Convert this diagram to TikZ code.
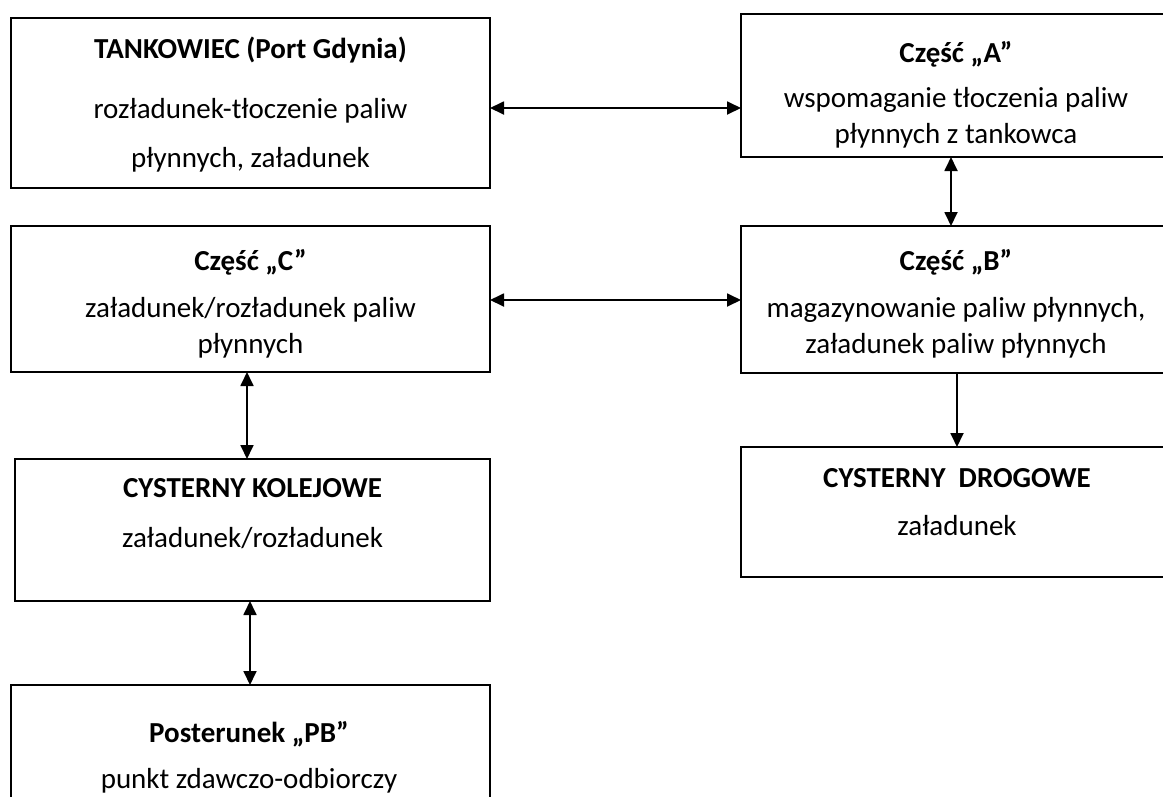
\documentclass[tikz,border=0pt]{standalone}
\usepackage{fontspec}
\setmainfont{Carlito}
\usetikzlibrary{arrows.meta}
\begin{document}
\begin{tikzpicture}[x=1pt,y=-1pt,
  boxn/.style={draw,line width=2pt,inner sep=0pt,outer sep=0pt},
  ttl/.style={anchor=base,inner sep=0pt,font=\bfseries\fontsize{29}{34}\selectfont},
  txt/.style={anchor=base,inner sep=0pt,font=\fontsize{29}{34}\selectfont},
  arr/.style={line width=1.8pt,{Triangle[length=14pt,width=13pt]}-{Triangle[length=14pt,width=13pt]}},
  arrone/.style={line width=1.8pt,-{Triangle[length=14pt,width=13pt]}}]
\useasboundingbox (0,0) rectangle (1163,796);
\clip (0,0) rectangle (1163,796);
% boxes
\node[boxn,minimum width=479pt,minimum height=170pt] (T) at (250.5,103) {};
\node[boxn,minimum width=430pt,minimum height=143pt] (A) at (956,85.5) {};
\node[boxn,minimum width=479pt,minimum height=146pt] (C) at (250.5,299) {};
\node[boxn,minimum width=430pt,minimum height=147pt] (B) at (956,299.5) {};
\node[boxn,minimum width=475pt,minimum height=142pt] (K) at (252.5,530) {};
\node[boxn,minimum width=430pt,minimum height=130pt] (D) at (956,512) {};
\node[boxn,minimum width=479pt,minimum height=130pt] (P) at (250.5,750) {};
% texts
\node[ttl] (t1) at (250.5,58) {TANKOWIEC (Port Gdynia)};
\node[txt] (t2) at (250.5,118) {rozładunek-tłoczenie paliw};
\node[txt] (t3) at (250.5,167) {płynnych, załadunek};
\node[ttl] (a1) at (956,62) {Część „A”};
\node[txt] (a2) at (956,107) {wspomaganie tłoczenia paliw};
\node[txt] (a3) at (956,143) {płynnych z tankowca};
\node[ttl] (c1) at (250.5,270) {Część „C”};
\node[txt] (c2) at (250.5,317) {załadunek/rozładunek paliw};
\node[txt] (c3) at (250.5,353) {płynnych};
\node[ttl] (b1) at (956,270) {Część „B”};
\node[txt] (b2) at (956,317) {magazynowanie paliw płynnych,};
\node[txt] (b3) at (956,353) {załadunek paliw płynnych};
\node[ttl] (k1) at (252.5,497) {CYSTERNY KOLEJOWE};
\node[txt] (k2) at (252.5,547) {załadunek/rozładunek};
\node[ttl] (d1) at (957,487) {CYSTERNY\ \ DROGOWE};
\node[txt] (d2) at (957,535) {załadunek};
\node[ttl] (p1) at (249,742) {Posterunek „PB”};
\node[txt] (p2) at (249,788) {punkt zdawczo-odbiorczy};
% connectors
\draw[arr] (T.east |- 0,108) -- (A.west |- 0,108);
\draw[arr] (A.south -| 951,0) -- (B.north -| 951,0);
\draw[arr] (C.east |- 0,300) -- (B.west |- 0,300);
\draw[arrone] (B.south -| 957,0) -- (D.north -| 957,0);
\draw[arr] (C.south -| 247,0) -- (K.north -| 247,0);
\draw[arr] (K.south -| 250,0) -- (P.north -| 250,0);
\end{tikzpicture}
\end{document}
